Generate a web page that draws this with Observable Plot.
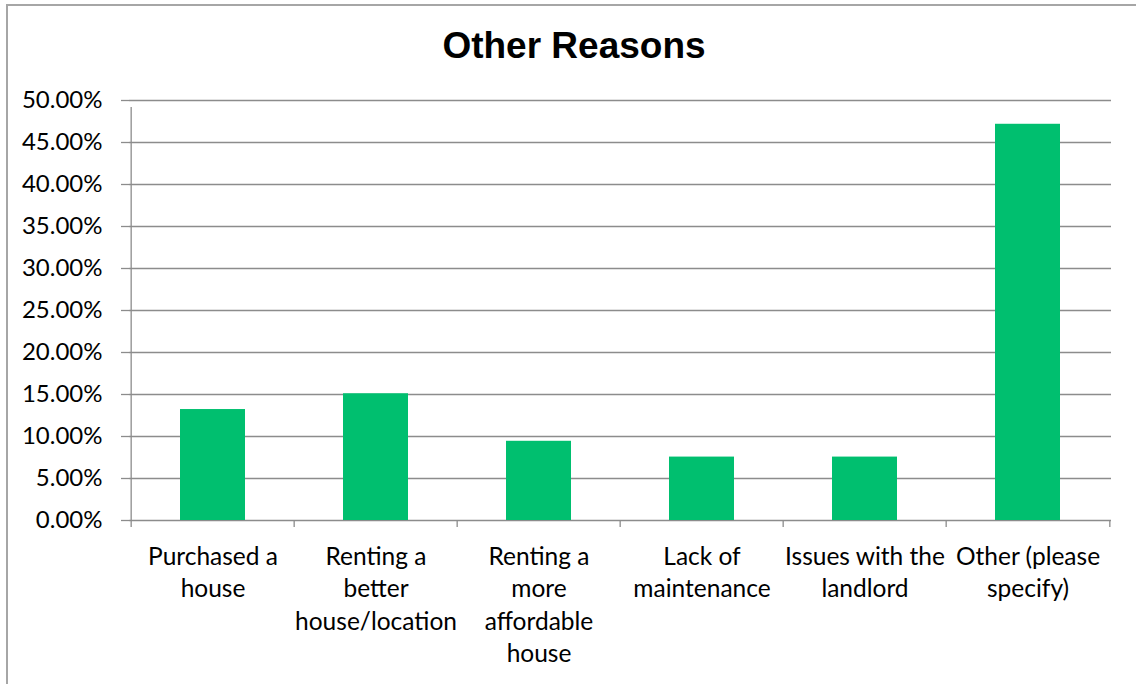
<!DOCTYPE html>
<html>
<head>
<meta charset="utf-8">
<script src="https://cdn.jsdelivr.net/npm/d3@7"></script>
<script src="https://cdn.jsdelivr.net/npm/@observablehq/plot@0.6"></script>
<style>
  html, body { margin: 0; padding: 0; background: #fff; }
  body { width: 1136px; height: 684px; position: relative; overflow: hidden; }
  #frame { position: absolute; left: 6px; top: 4px; width: 1200px; height: 700px;
           border-left: 2px solid #a6a6a6; border-top: 2px solid #a6a6a6; }
  #title { position: absolute; left: 7px; width: 1134px; top: 24px; text-align: center;
           font-family: "Liberation Sans", Arial, sans-serif; font-weight: bold; font-size: 37px; line-height: 44px; color: #000; }
  #chart { position: absolute; left: 0; top: 80px; }
</style>
</head>
<body>
<div id="frame"></div>
<div id="title">Other Reasons</div>
<div id="chart"></div>
<script>
const categories = [
  "Purchased a\nhouse",
  "Renting a\nbetter\nhouse/location",
  "Renting a\nmore\naffordable\nhouse",
  "Lack of\nmaintenance",
  "Issues with the\nlandlord",
  "Other (please\nspecify)"
];
const values = [0.1321, 0.1509, 0.0943, 0.0755, 0.0755, 0.4717];
const yTicks = [0, 0.05, 0.10, 0.15, 0.20, 0.25, 0.30, 0.35, 0.40, 0.45, 0.50];

const data = categories.map((c, i) => ({category: c, value: values[i]}));

const W = 1136, H = 604;
const mL = 129, mR = 25, mT = 20, mB = 164;
const step = (W - mL - mR) / categories.length;

const chart = Plot.plot({
  width: W,
  height: H,
  marginLeft: mL,
  marginRight: mR,
  marginTop: mT,
  marginBottom: mB,
  style: {fontFamily: "Lato, sans-serif", fontSize: "24px", color: "#000", background: "transparent"},
  x: {domain: categories, paddingInner: 0.6, paddingOuter: 0.3, label: null},
  y: {domain: [0, 0.5], label: null},
  marks: [
    Plot.gridY(yTicks, {stroke: "#8c8c8c", strokeOpacity: 1, strokeWidth: 1.3}),
    Plot.axisY(yTicks, {tickFormat: d3.format(".2%"), tickSize: 8, tickPadding: 19, stroke: "#8c8c8c", strokeWidth: 1.3, fontSize: 24, fill: "#000"}),
    Plot.ruleX([0], {x: () => categories[0], dx: -step / 2, y1: 0, y2: 0.5, insetBottom: -7, stroke: "#8c8c8c", strokeWidth: 1.3}),
    Plot.barY(data, {x: "category", y: "value", fill: "#00BF6F"}),
    Plot.ruleX(categories, {x: d => d, dx: -step / 2, y1: 0, y2: 0, insetBottom: -7, stroke: "#8c8c8c", strokeWidth: 1.3}),
    Plot.ruleX([categories[categories.length - 1]], {x: d => d, dx: step / 2, y1: 0, y2: 0, insetBottom: -7, stroke: "#8c8c8c", strokeWidth: 1.3}),
    Plot.axisX({tickSize: 0, tickPadding: 21, lineHeight: 1.33, fontSize: 24.5, fill: "#000"})
  ]
});
document.getElementById("chart").appendChild(chart);
</script>
</body>
</html>
